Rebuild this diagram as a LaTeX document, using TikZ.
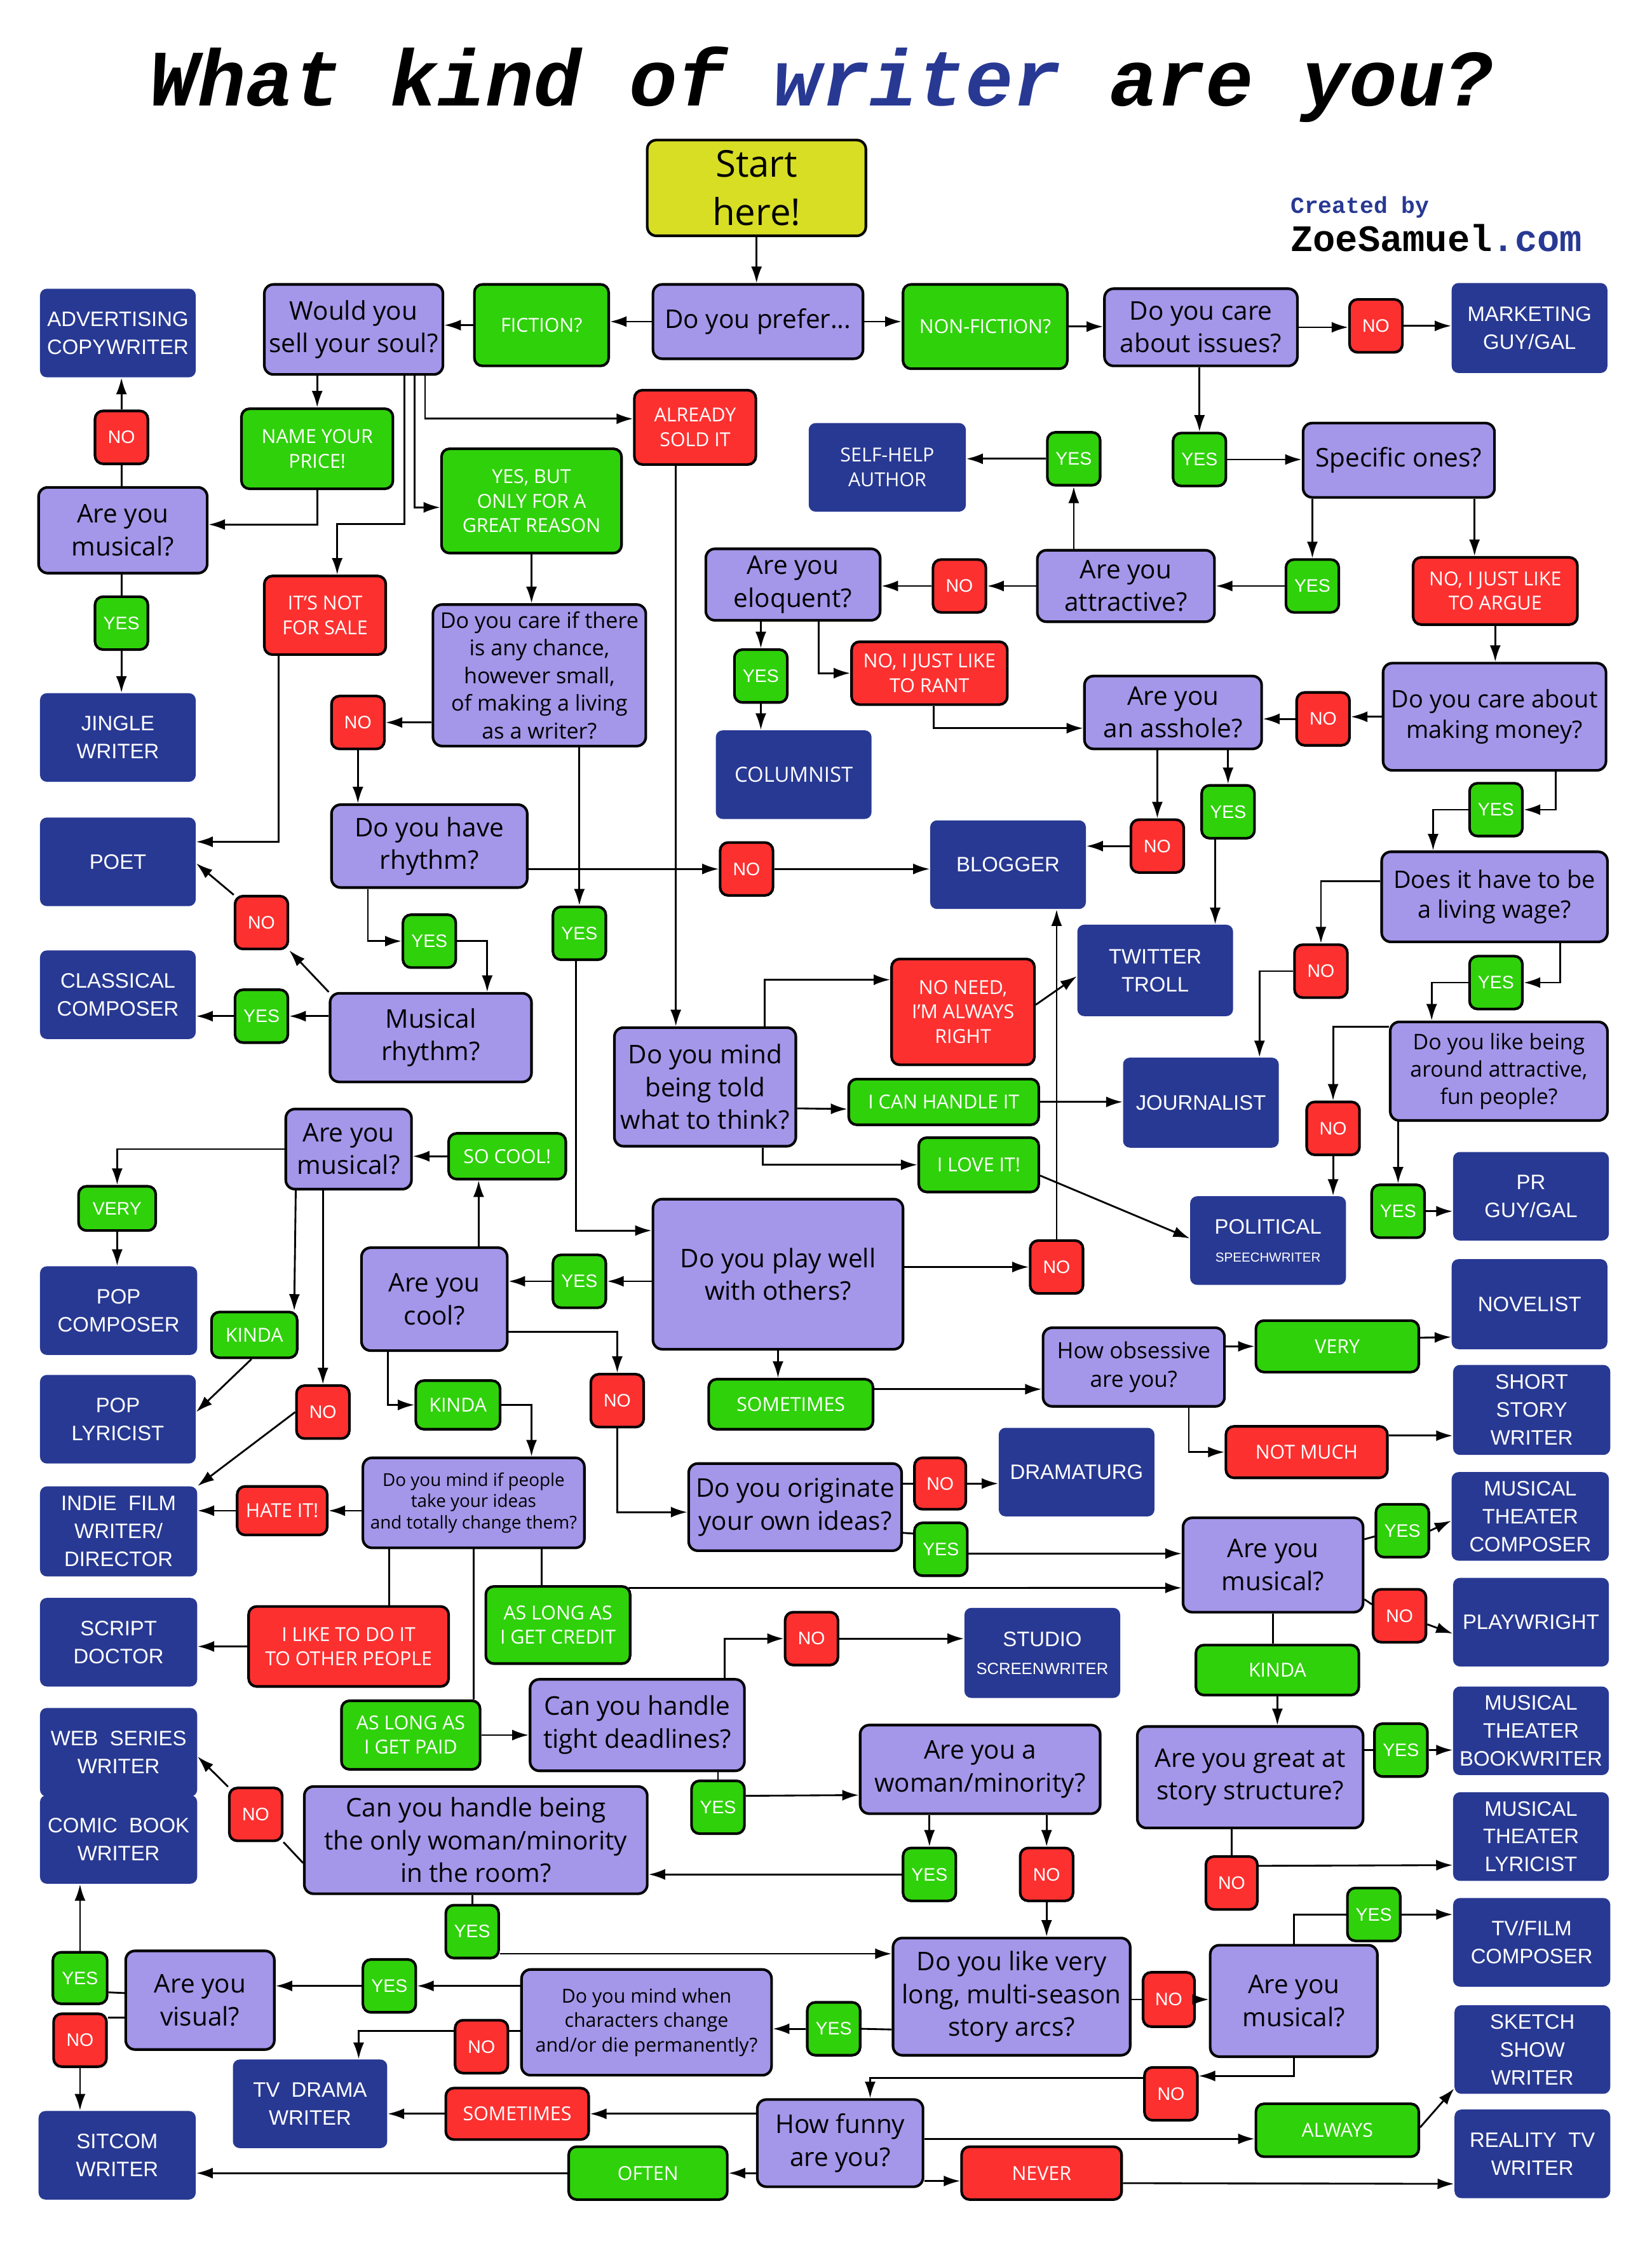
\documentclass[tikz,border=0pt]{standalone}
\usepackage{fontspec}
\setmainfont{Open Sans}
\newfontfamily\arialfont{Liberation Sans}
\newfontfamily\courierfont{Liberation Mono}
\usetikzlibrary{arrows.meta,calc}
\definecolor{qpurple}{RGB}{164,150,233}
\definecolor{agreen}{RGB}{47,209,10}
\definecolor{ared}{RGB}{253,48,48}
\definecolor{rblue}{RGB}{40,57,147}
\definecolor{syellow}{RGB}{216,222,36}

\begin{document}
\begin{tikzpicture}[x=0.25mm, y=-0.25mm]
    \tikzset{sz/.style 2 args={minimum width=#1*0.25mm, minimum height=#2*0.25mm}}
    \tikzstyle{question}=[
        draw = black,
        line width = 1.3pt,
        fill = qpurple,
        rounded corners = 1.6mm,
        align = center,
        inner sep = 1pt,
        font = \fontsize{12.8}{16.3}\selectfont
    ]
    \tikzstyle{result}=[
        fill = rblue,
        text = white,
        rounded corners = 1.2mm,
        align = center,
        inner sep = 1pt,
        sz = {109}{62},
        font = \arialfont\fontsize{10.4}{13.9}\selectfont
    ]
    \tikzstyle{yesbox}=[
        draw = black,
        line width = 1.3pt,
        fill = agreen,
        text = white,
        rounded corners = 1.4mm,
        inner sep = 0pt,
        sz = {37}{37},
        font = \arialfont\fontsize{9}{11}\selectfont
    ]
    \tikzstyle{nobox}=[yesbox, fill = ared]
    \tikzstyle{goodbox}=[
        draw = black,
        line width = 1.3pt,
        fill = agreen,
        text = white,
        rounded corners = 1.4mm,
        align = center,
        inner sep = 1pt,
        font = \fontsize{9.6}{12.1}\selectfont
    ]
    \tikzstyle{badbox}=[goodbox, fill = ared]
    \tikzstyle{arr}=[line width = 0.9pt, -{Latex[length=2.9mm, width=1.9mm]}]
    \tikzstyle{link}=[line width = 0.9pt]

    \useasboundingbox[fill=white] (0,0) rectangle (1156,1568);

    \node[anchor=base, font=\courierfont\bfseries\itshape\fontsize{39.8}{44}\selectfont] (title) at (575, 74) {What kind of \textcolor{rblue}{writer} are you?};
    \node[anchor=base west, inner sep=0pt, text=rblue, font=\courierfont\bfseries\fontsize{11.5}{12}\selectfont] (createdby) at (903, 149) {Created by};
    \node[anchor=base west, inner sep=0pt, font=\courierfont\bfseries\fontsize{18.6}{20}\selectfont] (site) at (903, 176) {ZoeSamuel\textcolor{rblue}{.com}};

    \node[question, fill=syellow, sz={153}{67}, font=\fontsize{18.4}{24}\selectfont] (start) at (529.5, 131.5) {Start\\here!};

    \node[question, sz={147}{52}] (prefer) at (530.5, 225) {Do you prefer...};
    \node[goodbox, sz={94}{57}] (fiction) at (379, 227.5) {FICTION?};
    \node[question, sz={125}{63}] (would) at (247.5, 230.5) {Would you\\sell your soul?};
    \node[result] (advert) at (82.5, 233) {ADVERTISING\\COPYWRITER};
    \node[goodbox, sz={115}{59}] (nonfic) at (689.5, 228.5) {NON-FICTION?};
    \node[question, sz={135}{54}] (issues) at (840.5, 229) {Do you care\\about issues?};
    \node[nobox] (noA) at (963, 228) {NO};
    \node[result, sz={109}{63}] (marketing) at (1070.5, 229.5) {MARKETING\\GUY/GAL};

    \node[nobox] (noB) at (85, 306) {NO};
    \node[goodbox, sz={106}{56}] (price) at (222, 314) {NAME YOUR\\PRICE!};
    \node[badbox, sz={85}{52}] (sold) at (486.5, 299) {ALREADY\\SOLD IT};
    \node[goodbox, sz={126}{73}] (reason) at (372, 350.5) {YES, BUT\\ONLY FOR A\\GREAT REASON};
    \node[result, sz={110}{62}, font=\fontsize{9.6}{12.5}\selectfont] (selfhelp) at (621, 327) {SELF-HELP\\AUTHOR};
    \node[yesbox] (yesA) at (751.5, 321) {YES};
    \node[yesbox] (yesB) at (839.5, 321.5) {YES};
    \node[question, sz={134}{52}] (specific) at (979, 322) {Specific ones?};
    \node[question, sz={118}{60}] (musA) at (86, 371) {Are you\\musical?};
    \node[badbox, sz={85}{55}] (notsale) at (227.5, 430.5) {IT’S NOT\\FOR SALE};
    \node[question, sz={149}{99}, font=\fontsize{10.8}{13.8}\selectfont] (living) at (377.5, 472.5) {Do you care if there\\is any chance,\\however small,\\of making a living\\as a writer?};
    \node[question, sz={122}{50}] (eloquent) at (555, 409) {Are you\\eloquent?};
    \node[nobox] (noC) at (671.5, 410) {NO};
    \node[question, sz={124}{50}] (attractive) at (788, 410) {Are you\\attractive?};
    \node[yesbox] (yesC) at (918.5, 410) {YES};
    \node[badbox, sz={115}{47}] (argue) at (1046.5, 413.5) {NO, I JUST LIKE\\TO ARGUE};
    \node[yesbox] (yesD) at (85, 436) {YES};
    \node[result] (jingle) at (82.5, 516) {JINGLE\\WRITER};
    \node[yesbox] (yesE) at (532.5, 473) {YES};
    \node[badbox, sz={109}{44}] (rant) at (650.5, 471) {NO, I JUST LIKE\\TO RANT};
    \node[result, font=\fontsize{10.4}{13.9}\selectfont] (columnist) at (555.5, 542) {COLUMNIST};
    \node[nobox] (noD) at (250.5, 505.5) {NO};
    \node[question, sz={124}{51}] (asshole) at (821, 498.5) {Are you\\an asshole?};
    \node[nobox] (noE) at (926, 503) {NO};
    \node[question, sz={156}{75}, font=\fontsize{12}{15}\selectfont] (money) at (1046, 501.5) {Do you care about\\making money?};

    \node[result] (poet) at (82.5, 603) {POET};
    \node[question, sz={137}{58}] (rhythm) at (300.5, 592) {Do you have\\rhythm?};
    \node[nobox] (noF) at (522.5, 608) {NO};
    \node[result] (blogger) at (705.5, 605) {BLOGGER};
    \node[nobox] (noG) at (810, 592) {NO};
    \node[yesbox] (yesF) at (859.5, 568) {YES};
    \node[yesbox] (yesG) at (1047, 566.5) {YES};
    \node[question, sz={158}{63}, font=\fontsize{12}{15}\selectfont] (wage) at (1046, 627.5) {Does it have to be\\a living wage?};
    \node[nobox] (noH) at (183, 645.5) {NO};
    \node[yesbox] (yesH) at (300.5, 658.5) {YES};
    \node[yesbox] (yesI) at (405.5, 653) {YES};
    \node[result, sz={109}{64}] (troll) at (808.5, 679) {TWITTER\\TROLL};
    \node[nobox] (noI) at (924.5, 679.5) {NO};
    \node[yesbox] (yesJ) at (1047, 687.5) {YES};
    \node[result] (classical) at (82.5, 696) {CLASSICAL\\COMPOSER};
    \node[yesbox] (yesK) at (183, 711) {YES};
    \node[question, sz={141}{62}] (musrhythm) at (301.5, 726) {Musical\\rhythm?};
    \node[badbox, sz={100}{74}] (noneed) at (674, 708) {NO NEED,\\I’M ALWAYS\\RIGHT};
    \node[question, sz={127}{83}] (told) at (493.5, 760.5) {Do you mind\\being told\\what to think?};
    \node[goodbox, sz={133}{32}] (handle) at (660.5, 771) {I CAN HANDLE IT};
    \node[result, sz={109}{63}] (journalist) at (840.5, 771.5) {JOURNALIST};
    \node[question, sz={152}{69}, font=\fontsize{10.7}{13.6}\selectfont] (fun) at (1049, 749.5) {Do you like being\\around attractive,\\fun people?};
    \node[nobox] (noJ) at (933, 789.5) {NO};
    \node[question, sz={88}{56}] (musB) at (244, 804) {Are you\\musical?};
    \node[goodbox, sz={82}{32}] (socool) at (355, 809) {SO COOL!};
    \node[goodbox, sz={84}{38}] (love) at (685, 815) {I LOVE IT!};
    \node[goodbox, sz={54}{31}, font=\arialfont\fontsize{9}{11}\selectfont] (veryA) at (82, 845.5) {VERY};
    \node[result] (pr) at (1071.5, 837) {PR\\GUY/GAL};
    \node[yesbox] (yesL) at (978.5, 847.5) {YES};
    \node[result] (political) at (887.5, 868) {POLITICAL\\{\fontsize{6.5}{8}\selectfont SPEECHWRITER}};
    \node[question, sz={175}{105}] (play) at (544.5, 891.5) {Do you play well\\with others?};
    \node[nobox] (noK) at (739.5, 886.5) {NO};
    \node[yesbox] (yesM) at (405.5, 896.5) {YES};
    \node[question, sz={102}{72}] (cool) at (304, 909) {Are you\\cool?};
    \node[result, sz={110}{62}] (popcomp) at (83, 917) {POP\\COMPOSER};
    \node[goodbox, sz={60}{32}] (kindaA) at (178, 934) {KINDA};
    \node[result, sz={109}{63}] (novelist) at (1070.5, 912.5) {NOVELIST};
    \node[question, sz={127}{55}, font=\fontsize{11.1}{14.5}\selectfont] (obsessive) at (793.5, 956.5) {How obsessive\\are you?};
    \node[goodbox, sz={114}{36}] (veryB) at (936, 942) {VERY};
    \node[result] (poplyr) at (82.5, 993) {POP\\LYRICIST};
    \node[nobox] (noL) at (226, 988) {NO};
    \node[goodbox, sz={59}{34}] (kindaB) at (320.5, 983) {KINDA};
    \node[nobox] (noM) at (432, 980) {NO};
    \node[goodbox, sz={115}{35}] (sometimesA) at (553.5, 982.5) {SOMETIMES};
    \node[result, sz={110}{63}] (shortstory) at (1072, 986.5) {SHORT\\STORY\\WRITER};
    \node[badbox, sz={113}{36}] (notmuch) at (914.5, 1016) {NOT MUCH};
    \node[result] (dramaturg) at (753.5, 1030) {DRAMATURG};
    \node[result, sz={110}{63}] (indie) at (83, 1071.5) {INDIE\ \ FILM\\WRITER/\\DIRECTOR};
    \node[badbox, sz={63}{34}] (hate) at (197.5, 1057) {HATE IT!};
    \node[question, sz={155}{63}, font=\fontsize{8.8}{10.7}\selectfont] (change) at (331.5, 1051.5) {Do you mind if people\\take your ideas\\and totally change them?};
    \node[question, sz={149}{61}] (originate) at (556.5, 1054.5) {Do you originate\\your own ideas?};
    \node[nobox, sz={36}{36}] (noN) at (658, 1038) {NO};
    \node[yesbox] (yesN) at (658.5, 1084) {YES};
    \node[question, sz={126}{66}] (musC) at (891, 1095) {Are you\\musical?};
    \node[yesbox] (yesO) at (981.5, 1071) {YES};
    \node[result, sz={110}{62}] (mtcomposer) at (1071, 1061) {MUSICAL\\THEATER\\COMPOSER};
    \node[nobox] (noO) at (979.5, 1130.5) {NO};
    \node[result] (playwright) at (1071.5, 1135) {PLAYWRIGHT};
    \node[result, sz={110}{62}] (scriptdoc) at (83, 1149) {SCRIPT\\DOCTOR};
    \node[badbox, sz={140}{56}] (dotoothers) at (244, 1152) {I LIKE TO DO IT\\TO OTHER PEOPLE};
    \node[goodbox, sz={101}{54}] (credit) at (390.5, 1137) {AS LONG AS\\I GET CREDIT};
    \node[nobox] (noP) at (568, 1146.5) {NO};
    \node[result, sz={109}{63}] (studio) at (729.5, 1156.5) {STUDIO\\{\fontsize{8.1}{10}\selectfont SCREENWRITER}};
    \node[goodbox, sz={114}{35}] (kindaC) at (894, 1168.5) {KINDA};
    \node[result, sz={110}{62}] (webseries) at (83, 1226) {WEB\ \ SERIES\\WRITER};
    \node[goodbox, sz={97}{48}] (paid) at (287.5, 1214) {AS LONG AS\\I GET PAID};
    \node[question, sz={150}{64}] (deadlines) at (446, 1207) {Can you handle\\tight deadlines?};
    \node[result] (bookwriter) at (1071.5, 1211) {MUSICAL\\THEATER\\BOOKWRITER};
    \node[yesbox] (yesP) at (980.5, 1224.5) {YES};
    \node[question, sz={168}{62}] (minority) at (686, 1238) {Are you a\\woman/minority?};
    \node[question, sz={158}{71}] (structure) at (875, 1243.5) {Are you great at\\story structure?};
    \node[yesbox] (yesQ) at (502.5, 1264.5) {YES};
    \node[nobox] (noQ) at (179, 1269.5) {NO};
    \node[question, sz={240}{75}] (onlyone) at (333, 1287.5) {Can you handle being\\the only woman/minority\\in the room?};
    \node[result, sz={110}{62}] (comic) at (83, 1287) {COMIC\ \ BOOK\\WRITER};
    \node[yesbox] (yesR) at (650.5, 1311.5) {YES};
    \node[nobox] (noR) at (732.5, 1311.5) {NO};
    \node[nobox, sz={36}{37}] (noS) at (862, 1317.5) {NO};
    \node[result] (lyricist) at (1071.5, 1285) {MUSICAL\\THEATER\\LYRICIST};
    \node[yesbox] (yesS) at (330.5, 1351.5) {YES};
    \node[yesbox] (yesT) at (961.5, 1339.5) {YES};
    \node[result, sz={110}{62}] (tvfilm) at (1072, 1359) {TV/FILM\\COMPOSER};
    \node[yesbox, sz={38}{36}] (yesU) at (56, 1384) {YES};
    \node[question, sz={104}{69}] (visual) at (140, 1399.5) {Are you\\visual?};
    \node[yesbox] (yesV) at (272.5, 1389.5) {YES};
    \node[question, sz={175}{74}, font=\fontsize{9.6}{12.1}\selectfont] (chars) at (452.5, 1415) {Do you mind when\\characters change\\and/or die permanently?};
    \node[yesbox] (yesW) at (583.5, 1419.5) {YES};
    \node[question, sz={166}{82}] (arcs) at (708, 1397) {Do you like very\\long, multi-season\\story arcs?};
    \node[nobox, sz={36}{38}] (noT) at (818, 1399) {NO};
    \node[question, sz={117}{78}] (musD) at (905.5, 1400) {Are you\\musical?};
    \node[result] (sketch) at (1072.5, 1434) {SKETCH\\SHOW\\WRITER};
    \node[nobox] (noU) at (56, 1427.5) {NO};
    \node[nobox] (noV) at (337, 1432) {NO};
    \node[result, sz={108}{62}] (tvdrama) at (217, 1472) {TV\ \ DRAMA\\WRITER};
    \node[nobox] (noW) at (819.5, 1465) {NO};
    \node[badbox, sz={100}{36}] (sometimesB) at (362, 1479) {SOMETIMES};
    \node[question, sz={116}{61}] (funny) at (588, 1499.5) {How funny\\are you?};
    \node[goodbox, sz={114}{37}] (always) at (936, 1490.5) {ALWAYS};
    \node[result] (reality) at (1072.5, 1507) {REALITY\ \ TV\\WRITER};
    \node[result, sz={110}{62}] (sitcom) at (82, 1508) {SITCOM\\WRITER};
    \node[goodbox, sz={111}{37}] (often) at (453.5, 1520.5) {OFTEN};
    \node[badbox, sz={112}{37}] (never) at (729, 1520.5) {NEVER};

    \draw[arr] (start.south) -- (start.south |- prefer.north);
    \draw[arr] (prefer.west) -- (prefer.west -| fiction.east);
    \draw[arr] (fiction.west) -- (fiction.west -| would.east);
    \draw[arr] (prefer.east) -- (prefer.east -| nonfic.west);
    \draw[arr] (nonfic.east) -- (nonfic.east -| issues.west);
    \draw[arr] (issues.east) -- (issues.east -| noA.west);
    \draw[arr] (noA.east) -- (noA.east -| marketing.west);
    \draw[arr] (issues.south -| yesB.north) -- (yesB.north);
    \draw[arr] (yesB.east) -- (yesB.east -| specific.west);
    \draw[arr] (specific.south -| yesC.north) -- (yesC.north);
    \draw[arr] ($(specific.south)+(53,0)$) -- ($(argue.north)+(-14.5,0)$);
    \draw[arr] (yesC.west) -- (yesC.west -| attractive.east);
    \draw[arr] (attractive.north -| yesA.south) -- (yesA.south);
    \draw[arr] (yesA.west) -- (yesA.west -| selfhelp.east);
    \draw[arr] (attractive.west) -- (attractive.west -| noC.east);
    \draw[arr] (noC.west) -- (noC.west -| eloquent.east);
    \draw[arr] (eloquent.south -| yesE.north) -- (yesE.north);
    \draw[arr] (yesE.south) -- (yesE.south |- columnist.north);
    \draw[arr] ($(eloquent.south)+(18,0)$) |- (rant.west);
    \draw[arr] ($(rant.south)+(3,0)$) |- ($(asshole.west)+(0,11)$);
    \draw[arr] (argue.south) -- (argue.south |- money.north);
    \draw[arr] (money.west) -- (money.west -| noE.east);
    \draw[arr] (noE.west) -- (noE.west -| asshole.east);
    \draw[arr] ($(money.south)+(43,0)$) |- (yesG.east);
    \draw[arr] (yesG.west) -| ($(wage.north)+(-43,0)$);
    \draw[arr] (asshole.south -| noG.north) -- (noG.north);
    \draw[arr] (noG.west) -- (noG.west -| blogger.east);
    \draw[arr] (asshole.south -| yesF.north) -- (yesF.north);
    \draw[arr] ($(yesF.south)+(-9,0)$) -- ($(troll.north)+(42,0)$);
    \draw[arr] ($(wage.west)+(0,-11)$) -| (noI.north);
    \draw[arr] (noI.west) -| ($(journalist.north)+(41,0)$);
    \draw[arr] ($(wage.south)+(46,0)$) |- (yesJ.east);
    \draw[arr] (yesJ.west) -| ($(fun.north)+(-47,0)$);
    \draw[arr] ($(fun.west)+(0,-31)$) -| (noJ.north);
    \draw[arr] (noJ.south) -- (noJ.south |- political.north);
    \draw[arr] (fun.south -| yesL.north) -- (yesL.north);
    \draw[arr] (yesL.east) -- (yesL.east -| pr.west);

    \draw[arr] (would.south -| price.north) -- (price.north);
    \draw[arr] (price.south) |- ($(musA.east)+(0,-4)$);
    \draw[arr] ($(would.south)+(35.5,0)$) |- ($(notsale.north)+(8.5,-35.5)$) -- ($(notsale.north)+(8.5,0)$);
    \draw[arr] ($(would.south)+(42.5,0)$) |- ($(reason.west)+(0,4.5)$);
    \draw[arr] ($(would.south)+(50,0)$) |- ($(sold.west)+(0,-6)$);
    \draw[link] (musA.north -| noB.south) -- (noB.south);
    \draw[arr] (noB.north) -- (noB.north |- advert.south);
    \draw[link] (musA.south -| yesD.north) -- (yesD.north);
    \draw[arr] (yesD.south) -- (yesD.south |- jingle.north);
    \draw[arr] (reason.south) -- (reason.south |- living.north);
    \draw[arr] (living.west |- noD.east) -- (noD.east);
    \draw[arr] (noD.south) -- (noD.south |- rhythm.north);
    \draw[arr] ($(notsale.south)+(-32.5,0)$) |- ($(poet.east)+(0,-14)$);
    \draw[arr] (living.south -| yesI.north) -- (yesI.north);
    \draw[arr] ($(yesI.south)+(-2.5,0)$) |- ($(play.west)+(0,-30.5)$);
    \draw[arr] ($(sold.south)+(-13.5,0)$) -- ($(told.north)+(-20.5,0)$);
    \draw[arr] (noF.west -| rhythm.east) -- (noF.west);
    \draw[arr] (noF.east) -- (noF.east -| blogger.west);
    \draw[arr] ($(rhythm.south)+(-43,0)$) |- (yesH.west);
    \draw[arr] (yesH.east) -| ($(musrhythm.north)+(39.5,0)$);
    \draw[arr] (musrhythm.north west) -- (noH.south east);
    \draw[arr] (noH.north west) -- ($(poet.east)+(0,1)$);
    \draw[arr] (musrhythm.west |- yesK.east) -- (yesK.east);
    \draw[arr] (yesK.west) -- (yesK.west -| classical.east);
    \draw[arr] ($(told.north)+(41.5,0)$) |- ($(noneed.west)+(0,-22.5)$);
    \draw[arr] ($(noneed.east)+(0,-5)$) -- ($(troll.west)+(0,4)$);
    \draw[arr] ($(told.east)+(0,15)$) -- ($(handle.west)+(0,5)$);
    \draw[arr] (handle.east) -- (handle.east -| journalist.west);
    \draw[arr] ($(told.south)+(40.5,0)$) |- (love.west);
    \draw[arr] ($(love.east)+(0,7.5)$) -- ($(political.west)+(0,-1.5)$);
    \draw[arr] (play.east |- noK.west) -- (noK.west);
    \draw[arr] (noK.north) -- (noK.north |- blogger.south);
    \draw[arr] (play.west |- yesM.east) -- (yesM.east);
    \draw[arr] (yesM.west) -- (yesM.west -| cool.east);
    \draw[arr] ($(cool.north)+(31,0)$) -- ($(socool.south)+(-20,0)$);
    \draw[arr] (socool.west) -- (socool.west -| musB.east);
    \draw[arr] (musB.west) -| (veryA.north);
    \draw[arr] (veryA.south) -- (veryA.south |- popcomp.north);
    \draw[arr] ($(musB.south)+(-37,0)$) -- ($(kindaA.north east)+(-3,0)$);
    \draw[arr] ($(kindaA.south)+(-2,0)$) -- ($(poplyr.east)+(0,-5)$);
    \draw[arr] (musB.south -| noL.north) -- (noL.north);
    \draw[arr] (noL.west) -- (indie.north east);
    \draw[arr] ($(cool.south)+(-32.5,0)$) |- (kindaB.west);
    \draw[arr] (kindaB.east) -| ($(change.north)+(40.5,0)$);
    \draw[arr] ($(cool.east)+(0,23)$) -| (noM.north);
    \draw[arr] (noM.south) |- ($(originate.west)+(0,3.5)$);
    \draw[arr] (play.south) -- (play.south |- sometimesA.north);
    \draw[arr] ($(sometimesA.east)+(0,-10.5)$) -- ($(obsessive.west)+(0,15.5)$);
    \draw[arr] (obsessive.east |- veryB.west) -- (veryB.west);
    \draw[arr] ($(veryB.east)+(0,-6)$) -- ($(novelist.west)+(0,23)$);
    \draw[arr] ($(obsessive.south)+(38.5,0)$) |- (notmuch.west);
    \draw[arr] ($(notmuch.east)+(0,-11.5)$) -- ($(shortstory.west)+(0,18)$);
    \draw[arr] (change.west |- hate.east) -- (hate.east);
    \draw[arr] (hate.west) -- (hate.west -| indie.east);
    \draw[link] ($(change.south)+(-59,0)$) -- ($(dotoothers.north)+(28.5,0)$);
    \draw[arr] (dotoothers.west) -- (dotoothers.west -| scriptdoc.east);
    \draw[link] (change.south) -- ($(paid.north)+(44,0)$);
    \draw[arr] (paid.east) -- (paid.east -| deadlines.west);
    \draw[link] ($(change.south)+(47.5,0)$) -- ($(credit.north)+(-11.5,0)$);
    \draw[arr] ($(credit.north east)+(-2,2)$) -- ($(musC.west)+(0,16)$);
    \draw[link] (originate.east |- noN.west) -- (noN.west);
    \draw[arr] (noN.east) -- (noN.east -| dramaturg.west);
    \draw[link] ($(originate.east)+(0,18)$) -- ($(yesN.west)+(0,-11)$);
    \draw[arr] ($(yesN.east)+(0,3)$) -- ($(musC.west)+(0,-8)$);
    \draw[link] ($(musC.east)+(0,-18)$) -- ($(yesO.west)+(0,4)$);
    \draw[arr] (yesO.east) -- ($(mtcomposer.west)+(0,3)$);
    \draw[link] ($(musC.east)+(0,24)$) -- ($(noO.west)+(0,-8)$);
    \draw[arr] ($(noO.east)+(0,6)$) -- ($(playwright.west)+(0,8)$);
    \draw[link] (musC.south) -- (musC.south |- kindaC.north);
    \draw[arr] (kindaC.south) -- (kindaC.south |- structure.north);
    \draw[link] (structure.east |- yesP.west) -- (yesP.west);
    \draw[arr] (yesP.east) -- (yesP.east -| bookwriter.west);
    \draw[link] (structure.south -| noS.north) -- (noS.north);
    \draw[arr] ($(noS.east)+(0,-12)$) -- ($(lyricist.west)+(0,20)$);
    \draw[arr] ($(deadlines.north)+(61,0)$) |- (noP.west);
    \draw[arr] (noP.east) -- (noP.east -| studio.west);
    \draw[link] (deadlines.south -| yesQ.north) -- (yesQ.north);
    \draw[arr] ($(yesQ.east)+(0,-8)$) -- ($(minority.west)+(0,18)$);
    \draw[arr] (minority.south -| yesR.north) -- (yesR.north);
    \draw[arr] (yesR.west) -- (yesR.west -| onlyone.east);
    \draw[arr] (minority.south -| noR.north) -- (noR.north);
    \draw[arr] (noR.south) -- (noR.south |- arcs.north);
    \draw[link] ($(onlyone.west)+(0,16)$) -- (noQ.south east);
    \draw[arr] (noQ.north west) -- ($(webseries.east)+(0,3)$);
    \draw[link] (onlyone.south -| yesS.north) -- (yesS.north);
    \draw[arr] ($(yesS.east)+(0,15.5)$) -- ($(arcs.west)+(0,-30)$);
    \draw[link] ($(arcs.west)+(0,23)$) -- (yesW.east);
    \draw[arr] (yesW.west) -- (yesW.west -| chars.east);
    \draw[arr] (chars.west |- yesV.east) -- (yesV.east);
    \draw[arr] (yesV.west) -- (yesV.west -| visual.east);
    \draw[link] ($(chars.west)+(0,6)$) -- ($(noV.east)+(0,-11)$);
    \draw[arr] ($(noV.west)+(0,-11)$) -| ($(tvdrama.north)+(34,0)$);
    \draw[link] ($(visual.west)+(0,-5)$) -- ($(yesU.east)+(0,10)$);
    \draw[arr] (yesU.north) -- (yesU.north |- comic.south);
    \draw[link] ($(visual.west)+(0,12)$) -- ($(noU.east)+(0,-16)$);
    \draw[arr] (noU.south) -- (noU.south |- sitcom.north);
    \draw[link] (arcs.east |- noT.west) -- (noT.west);
    \draw[arr] (noT.east) -- (noT.east -| musD.west);
    \draw[link] (musD.north) |- (yesT.west);
    \draw[arr] (yesT.east) -- (yesT.east -| tvfilm.west);
    \draw[arr] (musD.south) |- ($(noW.east)+(0,-12.5)$);
    \draw[arr] ($(noW.west)+(0,-11)$) -| ($(funny.north)+(21,0)$);
    \draw[arr] (funny.west |- sometimesB.east) -- (sometimesB.east);
    \draw[arr] (sometimesB.west) -- (sometimesB.west -| tvdrama.east);
    \draw[arr] (funny.west |- often.east) -- (often.east);
    \draw[arr] (often.west) -- (often.west -| sitcom.east);
    \draw[arr] ($(funny.east)+(0,-3)$) -- ($(always.west)+(0,6)$);
    \draw[arr] ($(always.east)+(0,-2)$) -- ($(sketch.south west)+(0,-4)$);
    \draw[arr] ($(funny.east)+(0,26.5)$) -- ($(never.west)+(0,5.5)$);
    \draw[arr] ($(never.east)+(0,7)$) -- ($(reality.west)+(0,21)$);

\end{tikzpicture}
\end{document}
